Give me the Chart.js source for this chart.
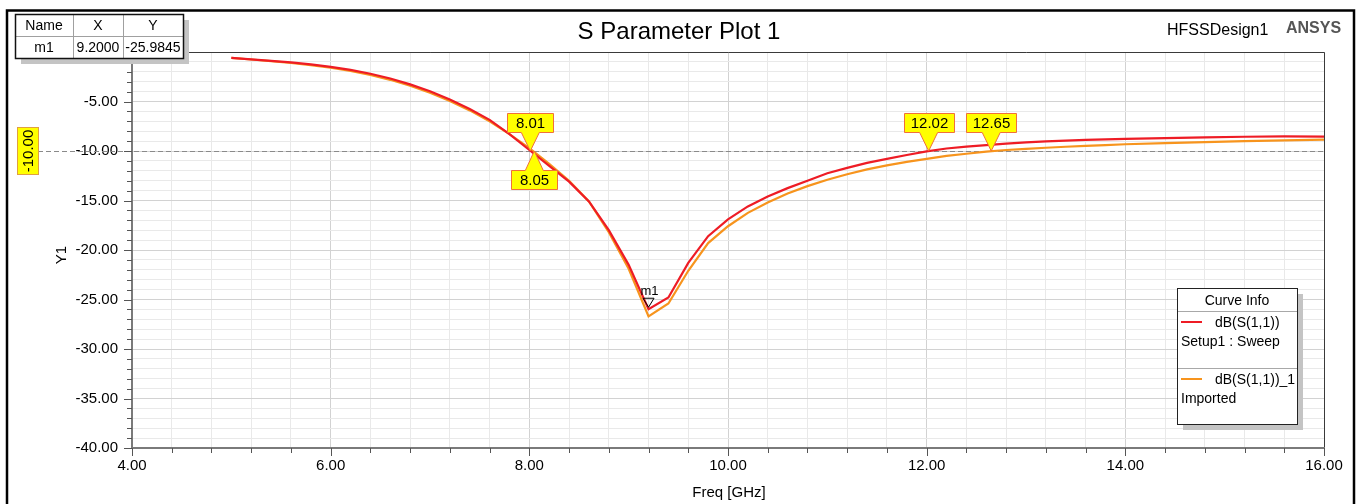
<!DOCTYPE html>
<html><head><meta charset="utf-8">
<script src="https://cdn.jsdelivr.net/npm/chart.js@4.4.0/dist/chart.umd.min.js"></script>
<style>html,body{margin:0;padding:0;background:#fff;overflow:hidden}canvas{display:block}</style>
</head><body><canvas id="c" width="1360" height="504"></canvas>
<script>
// ---------- data ----------
const freqGHz = [5.0,5.2,5.4,5.6,5.8,6.0,6.2,6.4,6.6,6.8,7.0,7.2,7.4,7.6,7.8,8.0,8.2,8.4,8.6,8.8,9.0,9.2,9.4,9.6,9.8,10.0,10.2,10.4,10.6,10.8,11.0,11.2,11.4,11.6,11.8,12.0,12.2,12.4,12.6,12.8,13.0,13.2,13.4,13.6,13.8,14.0,14.4,14.8,15.2,15.6,16.0];
const sweepDb = [-0.6,-0.74,-0.89,-1.05,-1.25,-1.5,-1.8,-2.2,-2.68,-3.27,-3.97,-4.8,-5.75,-6.85,-8.3,-9.9,-11.5,-13.1,-15.1,-18.0,-21.5,-25.98,-24.8,-21.3,-18.6,-16.9,-15.6,-14.6,-13.75,-13.0,-12.25,-11.7,-11.2,-10.8,-10.4,-10.03,-9.75,-9.55,-9.4,-9.25,-9.13,-9.03,-8.95,-8.88,-8.82,-8.77,-8.69,-8.62,-8.56,-8.53,-8.55];
const importedDb = [-0.6,-0.76,-0.93,-1.11,-1.32,-1.58,-1.9,-2.32,-2.81,-3.4,-4.12,-4.95,-5.9,-7.0,-8.3,-9.7,-11.3,-13.0,-15.1,-18.2,-21.9,-26.7,-25.4,-22.1,-19.3,-17.6,-16.25,-15.2,-14.3,-13.55,-12.9,-12.35,-11.85,-11.45,-11.1,-10.8,-10.5,-10.28,-10.06,-9.9,-9.78,-9.67,-9.57,-9.48,-9.4,-9.32,-9.2,-9.1,-9.0,-8.92,-8.85];

const seriesNames = ['dB(S(1,1))', 'dB(S(1,1))_1'];
const seriesSources = ['Setup1 : Sweep', 'Imported'];
const chartTitle = 'S Parameter Plot 1';
const designName = 'HFSSDesign1';
const brandName = 'ANSYS';
const xAxisTitle = 'Freq [GHz]';
const yAxisTitle = 'Y1';
const legendTitle = 'Curve Info';

const xRange = [4, 16];
const yRange = [-40, 0];

const markerTableHeader = ['Name', 'X', 'Y'];
const markerName = 'm1';
const markerFreq = 9.2;
const markerValue = -25.9845;

const levelValue = -10;
const levelLabel = '-10.00';
const crossingFreqs = [8.01, 8.05, 12.02, 12.65];
const crossingLabels = ['8.01', '8.05', '12.02', '12.65'];

// ---------- drawing ----------
const FONT = '"Liberation Sans", Arial, Helvetica, sans-serif';
const RED = '#ee1c25';
const ORANGE = '#f7941d';
const isMajorX = v => Math.abs(v / 2 - Math.round(v / 2)) < 1e-6;
const isMajorY = v => Math.abs(v / 5 - Math.round(v / 5)) < 1e-6;

function callout(ctx, px, py, text, below) {
  ctx.font = '15px ' + FONT;
  const w = Math.max(46, Math.round(ctx.measureText(text).width) + 12);
  const h = 19, half = 9, gap = 19;
  const L = Math.round(px - w / 2) + 0.5, R = L + w;
  ctx.beginPath();
  let T, B;
  if (!below) {
    B = Math.round(py - gap) + 0.5; T = B - h;
    ctx.moveTo(L, T); ctx.lineTo(R, T); ctx.lineTo(R, B);
    ctx.lineTo(px + half, B); ctx.lineTo(px, py); ctx.lineTo(px - half, B);
    ctx.lineTo(L, B); ctx.closePath();
  } else {
    T = Math.round(py + gap) + 0.5; B = T + h;
    ctx.moveTo(L, T); ctx.lineTo(px - half, T); ctx.lineTo(px, py); ctx.lineTo(px + half, T);
    ctx.lineTo(R, T); ctx.lineTo(R, B); ctx.lineTo(L, B); ctx.closePath();
  }
  ctx.fillStyle = '#ffff00'; ctx.fill();
  ctx.strokeStyle = '#f0703a'; ctx.lineWidth = 1; ctx.stroke();
  ctx.fillStyle = '#000'; ctx.textAlign = 'center'; ctx.textBaseline = 'middle';
  ctx.fillText(text, (L + R) / 2, (T + B) / 2 + 1);
}

const decor = {
  id: 'decor',
  beforeDraw(chart) {
    const c = chart.ctx;
    c.save(); c.fillStyle = '#fff'; c.fillRect(0, 0, chart.width, chart.height); c.restore();
  },
  beforeDatasetsDraw(chart) {
    const c = chart.ctx, a = chart.chartArea, ys = chart.scales.y;
    c.save();
    const ly = Math.round(ys.getPixelForValue(levelValue)) + 0.5;
    c.strokeStyle = '#8a8a8a'; c.lineWidth = 1; c.setLineDash([5, 3]);
    c.beginPath(); c.moveTo(38, ly); c.lineTo(a.right, ly); c.stroke();
    c.setLineDash([]);
    c.restore();
  },
  afterDraw(chart) {
    const c = chart.ctx, a = chart.chartArea, xs = chart.scales.x, ys = chart.scales.y;
    c.save();
    // plot frame
    c.strokeStyle = '#3a3a3a'; c.lineWidth = 1;
    c.beginPath(); c.moveTo(a.left, a.top + 0.5); c.lineTo(a.right + 0.5, a.top + 0.5); c.lineTo(a.right + 0.5, a.bottom); c.stroke();
    c.strokeStyle = '#7a7a7a'; c.lineWidth = 2;
    c.beginPath(); c.moveTo(a.left, a.top); c.lineTo(a.left, a.bottom); c.lineTo(a.right + 1, a.bottom); c.stroke();
    // ticks
    c.lineWidth = 1; c.strokeStyle = '#555';
    xs.ticks.forEach(t => {
      const x = Math.round(xs.getPixelForValue(t.value)) + 0.5;
      const len = isMajorX(t.value) ? 8 : 5;
      c.beginPath(); c.moveTo(x, a.bottom); c.lineTo(x, a.bottom + len); c.stroke();
    });
    ys.ticks.forEach(t => {
      const y = Math.round(ys.getPixelForValue(t.value)) + 0.5;
      const len = isMajorY(t.value) ? 8 : 5;
      c.beginPath(); c.moveTo(a.left - len, y); c.lineTo(a.left, y); c.stroke();
    });
    // axis titles
    c.fillStyle = '#000'; c.font = '15px ' + FONT; c.textAlign = 'center'; c.textBaseline = 'middle';
    c.fillText(xAxisTitle, (a.left + a.right) / 2 + 1, 493);
    c.save(); c.translate(62, (a.top + a.bottom) / 2 + 5); c.rotate(-Math.PI / 2); c.fillText(yAxisTitle, 0, 0); c.restore();
    // title texts
    c.font = '24px ' + FONT; c.fillText(chartTitle, 679, 32);
    c.font = '16px ' + FONT; c.textAlign = 'left'; c.fillText(designName, 1167, 31);
    c.font = 'bold 16px ' + FONT; c.fillStyle = '#555'; c.fillText(brandName, 1286, 29);
    // outer frame
    c.strokeStyle = '#000'; c.lineWidth = 2.5;
    c.beginPath(); c.moveTo(7, 520); c.lineTo(7, 10.5); c.lineTo(1354, 10.5); c.lineTo(1354, 520); c.stroke();

    // level label
    const ly = ys.getPixelForValue(levelValue);
    c.fillStyle = '#ffff00'; c.fillRect(17, ly - 24, 21, 47);
    c.strokeStyle = '#e0a040'; c.lineWidth = 1; c.strokeRect(17.5, Math.round(ly - 24) + 0.5, 21, 47);
    c.save(); c.translate(28, ly); c.rotate(-Math.PI / 2);
    c.fillStyle = '#000'; c.font = '15px ' + FONT; c.textAlign = 'center'; c.textBaseline = 'middle';
    c.fillText(levelLabel, 0, 1); c.restore();

    // crossing callouts
    crossingFreqs.forEach((f, i) => {
      callout(c, xs.getPixelForValue(f), ly, crossingLabels[i], i === 1);
    });

    // m1 marker
    const mx = xs.getPixelForValue(markerFreq), my = ys.getPixelForValue(markerValue) - 2;
    c.strokeStyle = '#000'; c.lineWidth = 1;
    c.beginPath(); c.moveTo(mx - 5.5, my - 9); c.lineTo(mx + 5.5, my - 9); c.lineTo(mx, my); c.closePath(); c.stroke();
    c.fillStyle = '#000'; c.font = '13px ' + FONT; c.textAlign = 'center'; c.textBaseline = 'middle';
    c.fillText(markerName, mx + 1, my - 16);

    // marker table
    const tx = 15, ty = 14, cw = [58, 50, 60], rh = 22, tw = cw[0] + cw[1] + cw[2];
    c.fillStyle = '#c4c4c4'; c.fillRect(tx + 6, ty + 6, tw, rh * 2);
    c.fillStyle = '#fff'; c.fillRect(tx, ty, tw, rh * 2);
    c.strokeStyle = '#a0a0a0'; c.lineWidth = 1;
    c.beginPath();
    c.moveTo(tx, ty + rh + 0.5); c.lineTo(tx + tw, ty + rh + 0.5);
    c.moveTo(tx + cw[0] + 0.5, ty); c.lineTo(tx + cw[0] + 0.5, ty + rh * 2);
    c.moveTo(tx + cw[0] + cw[1] + 0.5, ty); c.lineTo(tx + cw[0] + cw[1] + 0.5, ty + rh * 2);
    c.stroke();
    c.strokeStyle = '#111'; c.lineWidth = 1.5; c.strokeRect(tx + 0.5, ty + 0.5, tw, rh * 2);
    c.fillStyle = '#000'; c.font = '14px ' + FONT; c.textAlign = 'center'; c.textBaseline = 'middle';
    const row = [markerName, markerFreq.toFixed(4), markerValue.toFixed(4)];
    let cx = tx;
    for (let i = 0; i < 3; i++) {
      c.fillText(markerTableHeader[i], cx + cw[i] / 2, ty + rh / 2 + 1);
      c.fillText(row[i], cx + cw[i] / 2, ty + rh + rh / 2 + 1);
      cx += cw[i];
    }

    // legend
    const gx = 1177, gy = 288, gw = 120, gh = 136;
    c.fillStyle = '#c4c4c4'; c.fillRect(gx + 6, gy + 6, gw, gh);
    c.fillStyle = '#fff'; c.fillRect(gx, gy, gw, gh);
    c.strokeStyle = '#a8a8a8'; c.lineWidth = 1;
    c.beginPath(); c.moveTo(gx, gy + 23.5); c.lineTo(gx + gw, gy + 23.5);
    c.moveTo(gx, gy + 80.5); c.lineTo(gx + gw, gy + 80.5); c.stroke();
    c.strokeStyle = '#222'; c.strokeRect(gx + 0.5, gy + 0.5, gw, gh);
    c.fillStyle = '#000'; c.font = '14px ' + FONT; c.textAlign = 'center'; c.textBaseline = 'middle';
    c.fillText(legendTitle, gx + gw / 2, gy + 13);
    const cols = [RED, ORANGE];
    [0, 1].forEach(i => {
      const by = gy + 34 + i * 57;
      c.strokeStyle = cols[i]; c.lineWidth = 2;
      c.beginPath(); c.moveTo(gx + 4, by); c.lineTo(gx + 25, by); c.stroke();
      c.fillStyle = '#000'; c.textAlign = 'left';
      c.fillText(seriesNames[i], gx + 38, by + 1);
      c.fillText(seriesSources[i], gx + 4, by + 20);
    });
    c.restore();
  }
};

new Chart(document.getElementById('c'), {
  type: 'line',
  data: {
    datasets: [
      { label: seriesNames[0], data: freqGHz.map((f, i) => ({ x: f, y: sweepDb[i] })), borderColor: RED, borderWidth: 2.2, pointRadius: 0, tension: 0, order: 1 },
      { label: seriesNames[1], data: freqGHz.map((f, i) => ({ x: f, y: importedDb[i] })), borderColor: ORANGE, borderWidth: 2.2, pointRadius: 0, tension: 0, order: 2 }
    ]
  },
  options: {
    responsive: false, animation: false, devicePixelRatio: 1,
    layout: { padding: { left: 0, right: 36, top: 52, bottom: 0 } },
    plugins: { legend: { display: false }, tooltip: { enabled: false }, title: { display: false } },
    scales: {
      x: {
        type: 'linear', min: xRange[0], max: xRange[1],
        afterFit: s => { s.height = 56; },
        border: { display: false },
        grid: { drawTicks: false, color: ctx => (ctx.tick && isMajorX(ctx.tick.value)) ? '#d2d2d2' : '#e9e9e9', lineWidth: 1 },
        ticks: { stepSize: 0.4, autoSkip: false, maxRotation: 0, padding: 9, color: '#000', font: { family: FONT, size: 15 },
          callback: v => isMajorX(v) ? Number(v).toFixed(2) : '' }
      },
      y: {
        min: yRange[0], max: yRange[1],
        afterFit: s => { s.width = 132; },
        border: { display: false },
        grid: { drawTicks: false, color: ctx => (ctx.tick && isMajorY(ctx.tick.value)) ? '#d2d2d2' : '#e9e9e9', lineWidth: 1 },
        ticks: { stepSize: 1, autoSkip: false, padding: 14, color: '#000', font: { family: FONT, size: 15 },
          callback: v => (isMajorY(v) && v !== 0) ? Number(v).toFixed(2) : '' }
      }
    }
  },
  plugins: [decor]
});
</script>
</body></html>
